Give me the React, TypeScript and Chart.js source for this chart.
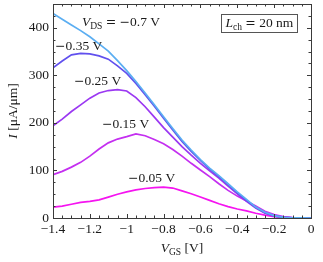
import React, { useEffect, useRef } from 'react';
import { Chart, registerables } from 'chart.js';

Chart.register(...registerables);

// Gate voltage V_GS [V]
const vgs = [-1.4, -1.35, -1.3, -1.25, -1.2, -1.15, -1.1, -1.05, -1.0, -0.95, -0.9, -0.85, -0.8, -0.75, -0.7, -0.65, -0.6, -0.55, -0.5, -0.45, -0.4, -0.35, -0.3, -0.25, -0.2, -0.15, -0.1, -0.05, 0];

// Current I [µA/µm] for each V_DS
const iVds070 = [430, 418, 406, 394, 381, 366, 351, 331, 310, 287, 263, 238, 213, 188, 164, 143, 123, 105, 89, 72, 55, 39, 23, 12, 5, 1.5, 0.5, 0.2, 0];
const iVds035 = [316, 330, 343, 346, 345, 341, 334, 320, 304, 283, 259, 235, 210, 185, 161, 140, 121, 103, 87, 70, 53, 37, 22, 11, 4.5, 1.3, 0.4, 0.1, 0];
const iVds025 = [194, 208, 224, 238, 252, 263, 268, 270, 267, 253, 234, 212, 190, 170, 150, 132, 115, 99, 84, 67, 51, 35, 21, 10, 4, 1.2, 0.3, 0.1, 0];
const iVds015 = [91, 98, 107, 117, 130, 145, 158, 166, 171, 177, 173, 165, 156, 144, 130, 115, 101, 87, 72, 58, 46, 36, 25, 14, 7, 3, 1, 0.3, 0];
const iVds005 = [23, 25, 29, 33, 35, 38, 44, 50, 55, 59, 62, 64, 65, 63, 57, 51, 44, 37, 30, 24, 19, 15, 10, 6, 3, 1.2, 0.4, 0.1, 0];

const seriesValues = [iVds070, iVds035, iVds025, iVds015, iVds005];
const seriesNames = ['−0.7 V', '−0.35 V', '−0.25 V', '−0.15 V', '−0.05 V'];
const seriesColors = ['#5BAEF2', '#6150EE', '#9B38F2', '#C42FF0', '#F514F0'];

// label anchors (left edge, vertical centre) in data coordinates
const labelAnchorV = [-1.243, -1.389, -1.286, -1.134, -0.993];
const labelAnchorI = [414, 362, 290, 198, 85];

const xMin = -1.4;
const xMax = 0;
const xStep = 0.2;
const yMin = 0;
const yMax = 450;
const yStep = 100;
const minorPerMajor = 4;

const FONT = '"Liberation Serif", "DejaVu Serif", serif';
const SYMFONT = '"DejaVu Serif", serif';
const SZ = 13.5;
const TXT = '#1a1a1a';

type Run = { t: string; italic?: boolean; sub?: boolean; sym?: boolean };

function runFont(r: Run) {
  const size = r.sub ? 9.5 : r.sym ? 12.5 : SZ;
  return `${r.italic ? 'italic ' : ''}${size}px ${r.sym ? SYMFONT : FONT}`;
}

// split plain text so that − and = use a wider symbol font (closer to TeX glyphs)
function textRuns(s: string): Run[] {
  const out: Run[] = [];
  let buf = '';
  for (const ch of s) {
    if (ch === '−' || ch === '=') {
      if (buf) out.push({ t: buf });
      buf = '';
      out.push({ t: ch, sym: true });
    } else buf += ch;
  }
  if (buf) out.push({ t: buf });
  return out;
}

function measureRuns(ctx: CanvasRenderingContext2D, runs: Run[]) {
  let w = 0;
  for (const r of runs) {
    ctx.font = runFont(r);
    w += ctx.measureText(r.t).width;
  }
  return w;
}

function drawRuns(ctx: CanvasRenderingContext2D, x: number, yCenter: number, runs: Run[]) {
  const base = yCenter + 4.5;
  let cx = x;
  ctx.textBaseline = 'alphabetic';
  ctx.textAlign = 'left';
  ctx.fillStyle = TXT;
  for (const r of runs) {
    ctx.font = runFont(r);
    ctx.fillText(r.t, cx, base + (r.sub ? 3 : 0));
    cx += ctx.measureText(r.t).width;
  }
}

function fmtX(v: number) {
  const r = Math.round(v * 10) / 10;
  if (r === 0) return '0';
  return (r < 0 ? '−' : '') + String(Math.abs(r));
}

const decorPlugin = {
  id: 'decor',
  afterDatasetsDraw(chart: any) {
    const ctx: CanvasRenderingContext2D = chart.ctx;
    const xs = chart.scales.x;
    const ys = chart.scales.y;
    const a = chart.chartArea;
    ctx.save();

    // frame
    ctx.strokeStyle = '#3a3a3a';
    ctx.lineWidth = 1;
    ctx.strokeRect(Math.round(a.left) + 0.5, Math.round(a.top) + 0.5, Math.round(a.right - a.left), Math.round(a.bottom - a.top));

    // ticks (inward, all four sides)
    const majorLen = 4;
    const minorLen = 2.5;
    ctx.beginPath();
    const nx = Math.round((xMax - xMin) / xStep);
    for (let i = 0; i <= nx * minorPerMajor; i++) {
      const v = xMin + (i * xStep) / minorPerMajor;
      const len = i % minorPerMajor === 0 ? majorLen : minorLen;
      const px = Math.round(xs.getPixelForValue(v)) + 0.5;
      ctx.moveTo(px, a.bottom);
      ctx.lineTo(px, a.bottom - len);
      ctx.moveTo(px, a.top);
      ctx.lineTo(px, a.top + len);
    }
    const ny = Math.floor((yMax - yMin) / yStep * minorPerMajor + 1e-6);
    for (let i = 0; i <= ny; i++) {
      const v = yMin + (i * yStep) / minorPerMajor;
      const len = i % minorPerMajor === 0 ? majorLen : minorLen;
      const py = Math.round(ys.getPixelForValue(v)) + 0.5;
      ctx.moveTo(a.left, py);
      ctx.lineTo(a.left + len, py);
      ctx.moveTo(a.right, py);
      ctx.lineTo(a.right - len, py);
    }
    ctx.stroke();

    // curve labels
    for (let k = 0; k < seriesNames.length; k++) {
      const px = xs.getPixelForValue(labelAnchorV[k]);
      const py = ys.getPixelForValue(labelAnchorI[k]);
      const runs: Run[] = k === 0
        ? [{ t: 'V', italic: true }, { t: 'DS', sub: true }, { t: ' ' }, ...textRuns('= ' + seriesNames[k])]
        : textRuns(seriesNames[k]);
      drawRuns(ctx, px, py, runs);
    }

    // channel length box
    const boxRuns: Run[] = [{ t: 'L', italic: true }, { t: 'ch', sub: true }, { t: ' ' }, ...textRuns('= 20 nm')];
    const bw = measureRuns(ctx, boxRuns);
    const boxW = Math.round(bw + 8);
    const boxH = 18;
    const bx = Math.round(a.right - 14 - boxW);
    const by = Math.round(a.top + 10);
    ctx.strokeStyle = '#555';
    ctx.lineWidth = 1;
    ctx.fillStyle = '#fff';
    ctx.fillRect(bx, by, boxW, boxH);
    ctx.strokeRect(bx + 0.5, by + 0.5, boxW, boxH);
    drawRuns(ctx, bx + 4.5, by + boxH / 2 - 0.5, boxRuns);

    // x axis title
    const xt: Run[] = [{ t: 'V', italic: true }, { t: 'GS', sub: true }, { t: ' [V]' }];
    const xtw = measureRuns(ctx, xt);
    drawRuns(ctx, (a.left + a.right) / 2 - xtw / 2, 247, xt);

    // y axis title
    const yt: Run[] = [{ t: 'I', italic: true }, { t: ' [μA/μm]' }];
    const ytw = measureRuns(ctx, yt);
    ctx.save();
    ctx.translate(12, (a.top + a.bottom) / 2);
    ctx.rotate(-Math.PI / 2);
    drawRuns(ctx, -ytw / 2, 0, yt);
    ctx.restore();

    ctx.restore();
  },
};

export default function App() {
  const ref = useRef<HTMLCanvasElement | null>(null);

  useEffect(() => {
    if (!ref.current) return;
    const chart = new Chart(ref.current, {
      type: 'line',
      data: {
        datasets: seriesValues.map((vals, k) => ({
          label: seriesNames[k],
          data: vgs.map((x, i) => ({ x, y: vals[i] })),
          borderColor: seriesColors[k],
          backgroundColor: seriesColors[k],
          borderWidth: 1.7,
          pointRadius: 0,
          tension: 0,
          fill: false,
        })),
      },
      options: {
        responsive: false,
        animation: false,
        events: [],
        layout: { padding: { top: 4, right: 12, left: 0, bottom: 0 } },
        plugins: {
          legend: { display: false },
          tooltip: { enabled: false },
          title: { display: false },
        },
        scales: {
          x: {
            type: 'linear',
            min: xMin,
            max: xMax,
            grid: { display: false, drawTicks: false },
            border: { display: false },
            ticks: {
              stepSize: xStep,
              autoSkip: false,
              maxRotation: 0,
              padding: 3,
              color: TXT,
              font: { family: FONT, size: SZ },
              callback: (v: any) => fmtX(Number(v)),
            },
            afterFit: (s: any) => { s.height = 44; s.paddingLeft = 0; s.paddingRight = 0; },
          },
          y: {
            type: 'linear',
            min: yMin,
            max: yMax,
            grid: { display: false, drawTicks: false },
            border: { display: false },
            afterBuildTicks: (s: any) => {
              s.ticks = s.ticks.filter((t: any) => Math.abs(t.value % yStep) < 1e-6 && t.value <= 400);
            },
            ticks: {
              stepSize: yStep,
              padding: 4,
              color: TXT,
              font: { family: FONT, size: SZ },
              callback: (v: any) => String(Math.round(Number(v))),
            },
            afterFit: (s: any) => { s.width = 53; s.paddingTop = 0; s.paddingBottom = 0; },
          },
        },
      },
      plugins: [decorPlugin],
    });
    return () => chart.destroy();
  }, []);

  return (
    <div style={{ position: 'fixed', left: 0, top: 0, width: 323, height: 262, background: '#fff' }}>
      <canvas ref={ref} width={323} height={262} style={{ display: 'block', width: 323, height: 262 }} />
    </div>
  );
}
